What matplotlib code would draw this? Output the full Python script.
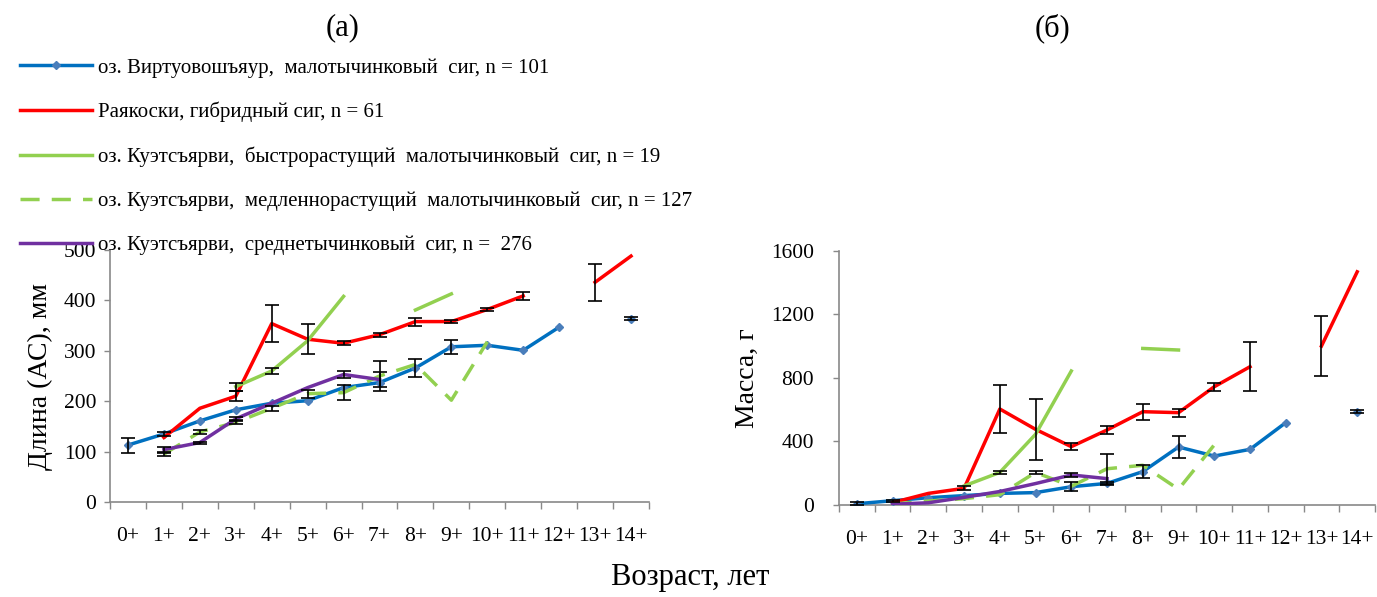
import numpy as np
import matplotlib.pyplot as plt

plt.rcParams['font.family'] = ['Liberation Serif', 'DejaVu Serif']

nan = np.nan
ages = ['0+', '1+', '2+', '3+', '4+', '5+', '6+', '7+', '8+', '9+', '10+', '11+', '12+', '13+', '14+']

labels = ['оз. Виртуовошъяур,  малотычинковый  сиг, n = 101',
          'Раякоски, гибридный сиг, n = 61',
          'оз. Куэтсъярви,  быстрорастущий  малотычинковый  сиг, n = 19',
          'оз. Куэтсъярви,  медленнорастущий  малотычинковый  сиг, n = 127',
          'оз. Куэтсъярви,  среднетычинковый  сиг, n =  276']

# (а) длина, мм
blue_len = [113, 135, 161, 183, 196, 201, 227, 237, 266, 308, 311, 301, 347, nan, 364]
blue_len_err = [15, 4, 0, 0, 0, 0, 0, 0, 17, 14, 0, 0, 0, 0, 3]
red_len = [nan, 128, 186, 210, 354, 323, 315, 332, 358, 358, 382, 409, nan, 436, 488]
red_len_err = [0, 0, 0, 10, 36, 30, 4, 4, 8, 3, 2, 8, 0, 37, 0]
fast_len = [nan, nan, nan, 229, 260, 320, 408, nan, 381, 413, nan, nan, nan, nan, nan]
fast_len_err = [0, 0, 0, 8, 5, 0, 0, 0, 0, 0, 0, 0, 0, 0, 0]
slow_len = [nan, 95, 139, 158, 186, 215, 217, 250, 273, 202, 318, nan, nan, nan, nan]
slow_len_err = [0, 3, 4, 4, 5, 8, 15, 30, 0, 0, 0, 0, 0, 0, 0]
purple_len = [nan, 104, 118, 165, 196, 227, 253, 243, nan, nan, nan, nan, nan, nan, nan]
purple_len_err = [0, 5, 2, 4, 0, 0, 7, 14, 0, 0, 0, 0, 0, 0, 0]

# (б) масса, г
blue_mass = [8, 27, 46, 59, 73, 78, 115, 136, 210, 365, 308, 350, 518, nan, 587]
blue_mass_err = [8, 6, 0, 0, 0, 0, 28, 10, 42, 70, 0, 0, 0, 0, 10]
red_mass = [nan, 15, 73, 105, 604, 476, 367, 472, 587, 581, 744, 870, nan, 1000, 1467]
red_mass_err = [0, 0, 0, 12, 148, 190, 20, 25, 50, 25, 25, 155, 0, 187, 0]
fast_mass = [nan, nan, nan, 120, 205, 445, 843, nan, 985, 975, nan, nan, nan, nan, nan]
fast_mass_err = [0, 0, 0, 0, 12, 0, 0, 0, 0, 0, 0, 0, 0, 0, 0]
slow_mass = [nan, 6, 25, 40, 65, 205, 118, 228, 250, 99, 378, nan, nan, nan, nan]
slow_mass_err = [0, 0, 0, 0, 0, 12, 0, 95, 0, 0, 0, 0, 0, 0, 0]
purple_mass = [nan, 5, 14, 48, 85, 135, 189, 166, nan, nan, nan, nan, nan, nan, nan]
purple_mass_err = [0, 0, 0, 0, 0, 0, 12, 0, 0, 0, 0, 0, 0, 0, 0]

colors = ['#0070C0', '#FF0000', '#92D050', '#92D050', '#7030A0']
styles = ['-', '-', '-', (0, (5.5, 3.5)), '-']


def draw(ax, series, errs, ymax, ystep, ypad):
    x = np.arange(len(ages))
    handles = []
    for i, (vals, err) in enumerate(zip(series, errs)):
        vals = np.array(vals, dtype=float)
        err = np.array(err, dtype=float)
        if i == 0:
            h, = ax.plot(x, vals, color=colors[i], lw=2.5, ls=styles[i],
                         marker='D', ms=4, mfc='#4A7EBB', mec='#4A7EBB', zorder=3)
        else:
            h, = ax.plot(x, vals, color=colors[i], lw=2.5, ls=styles[i], zorder=3)
        handles.append(h)
        m = (err > 0) & ~np.isnan(vals)
        ax.errorbar(x[m], vals[m], yerr=err[m], fmt='none', ecolor='black',
                    elinewidth=1.2, capsize=5, capthick=1.2, zorder=4)
    ax.set_xlim(-0.5, len(ages) - 0.5)
    ax.set_ylim(0, ymax)
    ax.set_yticks(np.arange(0, ymax + 1, ystep))
    ax.set_xticks(x)
    ax.set_xticklabels(ages)
    ax.set_xticks(np.arange(-0.5, len(ages)), minor=True)
    ax.tick_params(axis='x', which='major', length=0, pad=18, labelsize=15.5)
    ax.tick_params(axis='x', which='minor', length=5, color='#898989', width=1)
    ax.tick_params(axis='y', length=4, color='#898989', width=1, pad=ypad, labelsize=15.5)
    for s in ['top', 'right']:
        ax.spines[s].set_visible(False)
    for s in ['left', 'bottom']:
        ax.spines[s].set_color('#898989')
        ax.spines[s].set_linewidth(1.2)
    return handles


fig = plt.figure(figsize=(13.77, 5.97), dpi=100)
ax1 = fig.add_axes([0.0799, 0.1591, 0.3914, 0.4221])
ax2 = fig.add_axes([0.6093, 0.1541, 0.3893, 0.4260])

handles = draw(ax1, [blue_len, red_len, fast_len, slow_len, purple_len],
               [blue_len_err, red_len_err, fast_len_err, slow_len_err, purple_len_err],
               500, 100, 6)
draw(ax2, [blue_mass, red_mass, fast_mass, slow_mass, purple_mass],
     [blue_mass_err, red_mass_err, fast_mass_err, slow_mass_err, purple_mass_err],
     1600, 400, 14)

ax1.set_ylabel('Длина (АС), мм', fontsize=20, labelpad=8)
ax2.set_ylabel('Масса, г', fontsize=20, labelpad=8)

fig.text(343 / 1377, 1 - 28 / 597, '(а)', fontsize=22, ha='center', va='center')
fig.text(1053 / 1377, 1 - 28 / 597, '(б)', fontsize=22, ha='center', va='center')
fig.text(690 / 1377, 1 - 578 / 597, 'Возраст, лет', fontsize=22, ha='center', va='center')

fig.legend(handles, labels, loc='upper left', bbox_to_anchor=(20 / 1377, 1 - 58 / 597),
           frameon=False, fontsize=15, handlelength=3.45, handletextpad=0.28,
           labelspacing=1.17, borderpad=0, borderaxespad=0)

fig.savefig('out.png', dpi=100)
